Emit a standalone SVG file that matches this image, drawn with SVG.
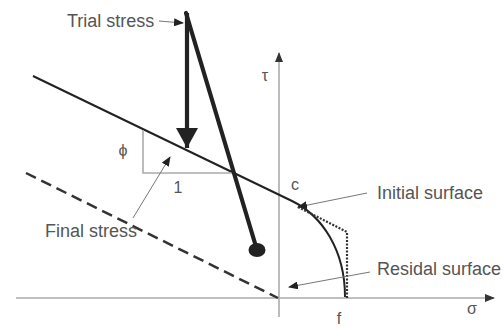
<svg xmlns="http://www.w3.org/2000/svg" width="504" height="327" viewBox="0 0 504 327">
<defs>
<marker id="axh" markerWidth="10" markerHeight="8" refX="9" refY="4" orient="auto" markerUnits="userSpaceOnUse"><path d="M0,0 L10,4 L0,8 Z" fill="#333"/></marker>
<marker id="lbh" markerWidth="10" markerHeight="8" refX="9" refY="4" orient="auto" markerUnits="userSpaceOnUse"><path d="M0,0 L10,4 L0,8 Z" fill="#222"/></marker>
<marker id="big" markerWidth="22" markerHeight="22" refX="20" refY="11" orient="auto" markerUnits="userSpaceOnUse"><path d="M0,0 L20,11 L0,22 Z" fill="#222"/></marker>
</defs>
<style>
.t{font-family:"Liberation Sans",Arial,sans-serif;fill:#555;}
.lbl{font-size:18px;}
.sym{font-size:16px;}
.axis{stroke:#aaa;stroke-width:1.6;fill:none;}
.thin{stroke:#777;stroke-width:1;fill:none;}
.thick{stroke:#222;stroke-width:4.2;fill:none;stroke-linecap:round;}
</style>
<rect width="504" height="327" fill="#fff"/>
<g id="axes">
<line class="axis" x1="16" y1="298" x2="494" y2="298" marker-end="url(#axh)"/>
<line class="axis" x1="279" y1="317" x2="279" y2="53" marker-end="url(#axh)"/>
<text class="t sym" x="265" y="81" text-anchor="middle">τ</text>
<text class="t sym" x="472" y="314" text-anchor="middle">σ</text>
<text class="t sym" x="339" y="324" text-anchor="middle">f</text>
</g>
<g id="initial-surface">
<path d="M33,76 L292,201 C322,215.5 345,250 345,297" fill="none" stroke="#222" stroke-width="2"/>
<text class="t sym" x="295" y="190" text-anchor="middle">c</text>
</g>
<g id="residual-surface">
<path d="M298,207 L347,232 L347,298" fill="none" stroke="#333" stroke-width="2.2" stroke-dasharray="2,1.5"/>
</g>
<g id="final-surface">
<line x1="26" y1="173" x2="278" y2="298" stroke="#333" stroke-width="2.5" stroke-dasharray="11,6"/>
</g>
<g id="slope">
<path d="M143,130 L143,173 L233,173" fill="none" stroke="#aaa" stroke-width="1.6"/>
<text class="t sym" x="123" y="156" text-anchor="middle">ϕ</text>
<text class="t sym" x="178" y="193" text-anchor="middle">1</text>
</g>
<g id="trial-stress">
<line class="thick" x1="186" y1="13" x2="257" y2="250"/>
<line x1="187" y1="13" x2="187" y2="148" stroke="#222" stroke-width="4.2" marker-end="url(#big)"/>
<ellipse cx="257" cy="250" rx="8.5" ry="7" fill="#222"/>
<text class="t lbl" x="67" y="27">Trial stress</text>
</g>
<g id="connectors">
<line class="thin" x1="159" y1="21" x2="183" y2="23" marker-end="url(#lbh)"/>
<line class="thin" x1="133" y1="218" x2="170" y2="157" marker-end="url(#lbh)"/>
<line class="thin" x1="367" y1="193" x2="298" y2="207" marker-end="url(#lbh)"/>
<line class="thin" x1="370" y1="272" x2="289" y2="287" marker-end="url(#lbh)"/>
</g>
<g id="labels">
<text class="t lbl" x="45" y="237">Final stress</text>
<text class="t lbl" x="377" y="199">Initial surface</text>
<text class="t lbl" x="377" y="275">Residal surface</text>
</g>
</svg>
